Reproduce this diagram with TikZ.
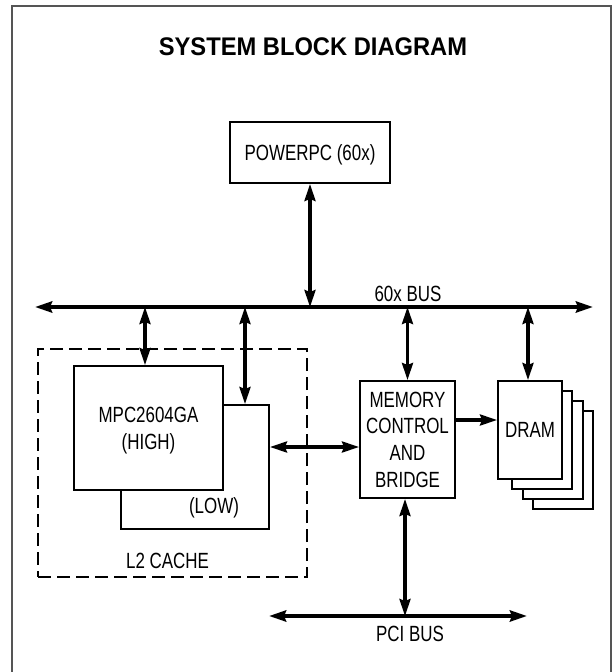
\documentclass[tikz,border=0pt]{standalone}
\usepackage{fontspec}
\setmainfont{Liberation Sans}[FakeStretch=0.77]
\newfontfamily\titlefont{Liberation Sans}[FakeStretch=0.93]
\usetikzlibrary{arrows.meta,positioning}
\definecolor{FrameGray}{HTML}{555555}

\begin{document}
\begin{tikzpicture}[x=1pt, y=-1pt,
  >={Stealth[length=17pt,width=11pt,inset=2pt]},
  block/.style={draw, line width=2pt, fill=white, inner sep=0pt, align=center, text depth=0pt, font=\fontsize{22}{26.7}\selectfont},
  lbl/.style={inner sep=0pt, font=\fontsize{22}{26.7}\selectfont},
  arr/.style={<->, line width=3.2pt},
  arrone/.style={->, line width=3.2pt},
  bus/.style={<->, line width=3.8pt},
  frame/.style={draw=FrameGray, line width=1.5pt}
]
\useasboundingbox (0,0) rectangle (612,672);
\draw[frame] (12,672) -- (12,6) -- (611,6) -- (611,672);
\node[inner sep=0pt, font=\titlefont\bfseries\fontsize{25.5}{30}\selectfont] (title) at (313,46.5) {SYSTEM BLOCK DIAGRAM};

% processor and 60x bus
\node[block, minimum width=160pt, minimum height=61pt] (ppc) at (310,152.5) {POWERPC (60x)};
\coordinate (busL) at (35,307);
\coordinate (busR) at (593,307);
\draw[bus] (busL) -- (busR);
\node[lbl] (buslbl) at (408,293.5) {60x BUS};

% L2 cache
\node[draw, line width=2pt, dash pattern=on 13pt off 6pt, minimum width=269pt, minimum height=228pt] (l2) at (172.5,463) {};
\node[block, minimum width=148pt, minimum height=124pt] (low) at (195,467) {};
\node[block, minimum width=149pt, minimum height=124pt] (high) at (148.5,428) {MPC2604GA\\(HIGH)};
\node[lbl] (lowlbl) at (214,507.5) {(LOW)};
\node[lbl] (l2lbl) at (167.6,560.5) {L2 CACHE};

% memory controller and DRAM
\node[block, minimum width=95pt, minimum height=117pt] (mem) at (407.5,439.5) {MEMORY\\CONTROL\\AND\\BRIDGE};
\foreach \i in {3,2,1}
  \node[block, minimum width=60pt, minimum height=98pt] (dram\i) at ({531.5+10.5*\i},{430+10*\i}) {};
\node[block, minimum width=64pt, minimum height=98pt] (dram) at (530,430) {DRAM};

% connections to the 60x bus
\coordinate (tapH) at (145,307);
\coordinate (tapL) at (245,307);
\coordinate (tapD) at (528,307);
\draw[arr] (ppc.south) -- (ppc.south |- busL);
\draw[arr] (tapH) -- (tapH |- high.north);
\draw[arr] (tapL) -- (tapL |- low.north);
\draw[arr] (mem.north |- busL) -- (mem.north);
\draw[arr] (tapD) -- (tapD |- dram.north);
\draw[arr] ([yshift=20pt]low.east) -- ([yshift=20pt]low.east -| mem.west);
\draw[arrone] ([yshift=19.5pt]mem.east) -- ([yshift=19.5pt]mem.east -| dram.west);

% PCI bus
\coordinate (pciL) at (269,616);
\coordinate (pciR) at (527,616);
\coordinate (tapP) at (405,616);
\draw[bus] (pciL) -- (pciR);
\draw[arr] (tapP |- mem.south) -- (tapP);
\node[lbl] (pcilbl) at (410,633.7) {PCI BUS};
\end{tikzpicture}
\end{document}
